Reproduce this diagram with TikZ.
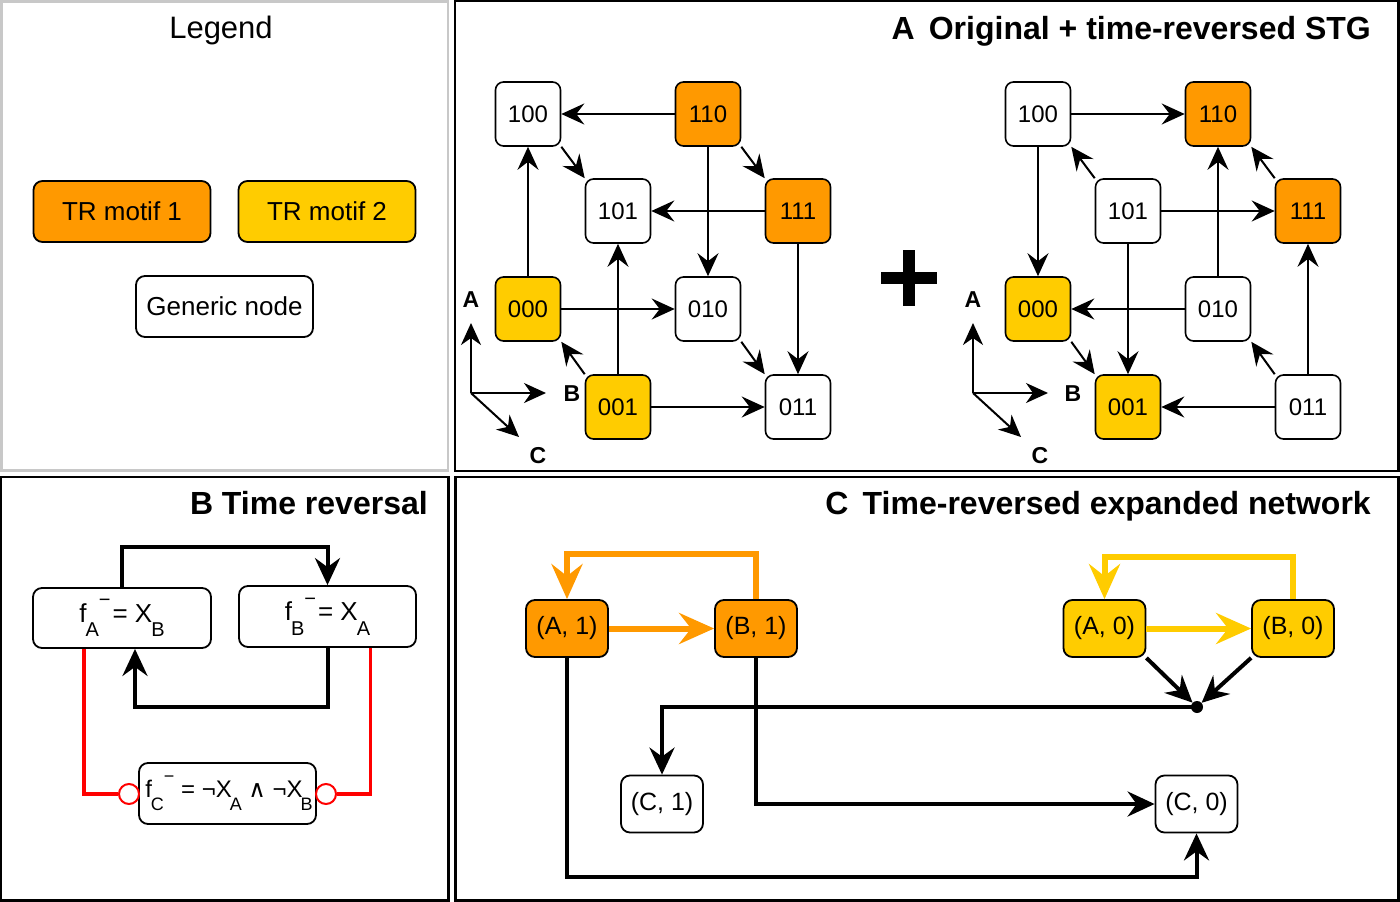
\documentclass[tikz,border=0pt]{standalone}
\usepackage{fontspec}
\setmainfont{Liberation Sans}
\newfontfamily\djv{DejaVu Sans}
\usetikzlibrary{arrows.meta}
\definecolor{torange}{HTML}{FF9900}
\definecolor{tyellow}{HTML}{FFCC00}
\definecolor{pgray}{HTML}{C8C8C8}
\newcommand\lo[1]{\raisebox{-0.55em}{\fontsize{20}{20}\selectfont #1}}
\newcommand\hi[1]{\raisebox{0.6em}{\fontsize{20}{20}\selectfont #1}}
\newcommand\loc[1]{\raisebox{-0.55em}{\fontsize{18}{18}\selectfont #1}}
\newcommand\hic[1]{\raisebox{0.62em}{\fontsize{18}{18}\selectfont #1}}
\begin{document}
\begin{tikzpicture}[x=1pt,y=-1pt,
  cube/.style={draw, line width=1.6pt, rounded corners=8pt, minimum width=65pt, minimum height=64pt, inner sep=0pt, fill=white, font=\fontsize{24}{28}\selectfont},
  m1/.style={fill=torange},
  m2/.style={fill=tyellow},
  legbox/.style={draw, line width=1.8pt, rounded corners=9pt, minimum width=177pt, minimum height=61pt, inner sep=0pt, fill=white, font=\fontsize{26}{30}\selectfont},
  fbox/.style={draw, line width=1.8pt, rounded corners=9pt, minimum width=177pt, minimum height=60pt, inner sep=0pt, fill=white, font=\fontsize{26}{30}\selectfont},
  cnode/.style={draw, line width=1.8pt, rounded corners=9pt, minimum width=82pt, minimum height=57pt, inner sep=0pt, fill=white, font=\fontsize{25}{30}\selectfont},
  title/.style={anchor=base east, font=\bfseries\fontsize{32}{38}\selectfont, inner sep=0pt},
  axl/.style={font=\bfseries\fontsize{23}{28}\selectfont, inner sep=0pt},
  carr/.style={line width=2pt, -{Stealth[length=23pt,width=21pt,inset=8pt]}},
  axarr/.style={line width=2pt, -{Stealth[length=22pt,width=20pt,inset=7pt]}},
  barr/.style={line width=4pt, -{Stealth[length=27pt,width=25pt,inset=9pt]}},
  oarr/.style={line width=6pt, draw=torange, -{Stealth[length=35pt,width=31pt,inset=12pt]}},
  yarr/.style={line width=6pt, draw=tyellow, -{Stealth[length=35pt,width=31pt,inset=12pt]}},
  redl/.style={line width=3.5pt, draw=red},
  rcirc/.style={circle, draw=red, line width=2pt, fill=white, minimum size=20pt, inner sep=0pt},
]
\useasboundingbox (0,0) rectangle (1400,902);
% panels
\draw[pgray, line width=2.5pt] (1.5,1.5) rectangle (448,470.5);
\draw[line width=2.5pt] (455,1.2) rectangle (1398.5,471);
\draw[line width=2.5pt] (1.2,477) rectangle (448.5,900.5);
\draw[line width=2.5pt] (455.5,477) rectangle (1398.5,900.5);

% legend
\node[anchor=base, font=\fontsize{31}{36}\selectfont, inner sep=0pt] (legt) at (221,38) {Legend};
\node[legbox, m1] (lg1) at (122,211.5) {TR motif 1};
\node[legbox, m2] (lg2) at (327,211.5) {TR motif 2};
\node[legbox] (lg3) at (224.5,306.5) {Generic node};

% panel A
\node[title] (tA) at (1371,39) {A\, Original + time-reversed STG};
\node[cube] (L100) at (528,114) {100};
\node[cube, m1] (L110) at (708,114) {110};
\node[cube] (L101) at (618,211) {101};
\node[cube, m1] (L111) at (798,211) {111};
\node[cube, m2] (L000) at (528,309) {000};
\node[cube] (L010) at (708,309) {010};
\node[cube, m2] (L001) at (618,407) {001};
\node[cube] (L011) at (798,407) {011};

\draw[carr] (L110) -- (L100);
\draw[carr] (L100.south east) -- (L101.north west);
\draw[carr] (L110.south east) -- (L111.north west);
\draw[carr] (L111) -- (L101);
\draw[carr] (L110) -- (L010);
\draw[carr] (L000) -- (L100);
\draw[carr] (L001) -- (L101);
\draw[carr] (L111) -- (L011);
\draw[carr] (L000) -- (L010);
\draw[carr] (L001.north west) -- (L000.south east);
\draw[carr] (L010.south east) -- (L011.north west);
\draw[carr] (L001) -- (L011);

\node[cube] (R100) at (1038,114) {100};
\node[cube, m1] (R110) at (1218,114) {110};
\node[cube] (R101) at (1128,211) {101};
\node[cube, m1] (R111) at (1308,211) {111};
\node[cube, m2] (R000) at (1038,309) {000};
\node[cube] (R010) at (1218,309) {010};
\node[cube, m2] (R001) at (1128,407) {001};
\node[cube] (R011) at (1308,407) {011};

\draw[carr] (R100) -- (R110);
\draw[carr] (R101.north west) -- (R100.south east);
\draw[carr] (R111.north west) -- (R110.south east);
\draw[carr] (R101) -- (R111);
\draw[carr] (R010) -- (R110);
\draw[carr] (R100) -- (R000);
\draw[carr] (R101) -- (R001);
\draw[carr] (R011) -- (R111);
\draw[carr] (R010) -- (R000);
\draw[carr] (R000.south east) -- (R001.north west);
\draw[carr] (R011.north west) -- (R010.south east);
\draw[carr] (R011) -- (R001);

% axes
\coordinate (Lo) at (471,393);
\coordinate (LA) at (471,323);
\coordinate (LB) at (546,393);
\coordinate (LC) at (519,437);
\draw[axarr] (Lo) -- (LA);
\draw[axarr] (Lo) -- (LB);
\draw[axarr] (Lo) -- (LC);
\node[axl] (LAl) at (471,300) {A};
\node[axl] (LBl) at (572,394) {B};
\node[axl] (LCl) at (538,456) {C};

\coordinate (Ro) at (973,393);
\coordinate (RA) at (973,323);
\coordinate (RB) at (1048,393);
\coordinate (RC) at (1021,437);
\draw[axarr] (Ro) -- (RA);
\draw[axarr] (Ro) -- (RB);
\draw[axarr] (Ro) -- (RC);
\node[axl] (RAl) at (973,300) {A};
\node[axl] (RBl) at (1073,394) {B};
\node[axl] (RCl) at (1040,456) {C};

% plus
\fill (881,272) rectangle (937,284);
\fill (903,250) rectangle (915,306);

% panel B
\node[title] (tB) at (428,514) {B Time reversal};
\node[fbox, minimum width=178pt] (fA) at (122,618) {f\kern-1pt\lo{A}\hi{−}\kern2pt = X\kern-1pt\lo{B}};
\node[fbox, minimum height=61pt] (fB) at (327.5,616.5) {f\kern-1pt\lo{B}\hi{−}\kern2pt = X\kern-1pt\lo{A}};
\node[fbox, minimum height=61pt, font=\fontsize{24}{28}\selectfont] (fC) at (227.5,793.5) {\makebox[0pt]{\kern3pt f\kern-1pt\loc{C}\hic{−} = ¬X\kern-2pt\loc{A} {\djv ∧} ¬X\kern-2pt\loc{B}}};
\draw[barr] (fA.north) -- ++(0,-40) -| (fB.north);
\draw[barr] (fB.south) -- ++(0,59) -| ([xshift=13pt]fA.south);
\node[rcirc] (cL) at (129,794) {};
\node[rcirc] (cR) at (326,794) {};
\draw[redl] ([xshift=-38pt]fA.south) |- (cL.west);
\draw[redl] ([xshift=43pt]fB.south) |- (cR.east);

% panel C
\node[title] (tC) at (1371,514) {C\, Time-reversed expanded network};
\node[cnode, m1] (A1) at (567,628.5) {(A, 1)};
\node[cnode, m1] (B1) at (756,628.5) {(B, 1)};
\node[cnode] (C1) at (662,804) {(C, 1)};
\node[cnode, m2] (A0) at (1104.5,628.5) {(A, 0)};
\node[cnode, m2] (B0) at (1293,628.5) {(B, 0)};
\node[cnode] (C0) at (1196.5,804) {(C, 0)};
\node[circle, fill, inner sep=0pt, minimum size=12pt] (dot) at (1197,707) {};

\draw[oarr] (A1) -- (B1);
\draw[oarr] (B1.north) -- ++(0,-45) -| (A1.north);
\draw[yarr] (A0) -- (B0);
\draw[yarr] (B0.north) -- ++(0,-42) -| (A0.north);
\draw[barr] (A1.south) -- ++(0,219) -| (C0.south);
\draw[barr] (B1.south) |- (C0.west);
\draw[barr] (dot.center) -| (C1.north);
\draw[barr] (A0.south east) -- (dot);
\draw[barr] (B0.south west) -- (dot);
\end{tikzpicture}
\end{document}
